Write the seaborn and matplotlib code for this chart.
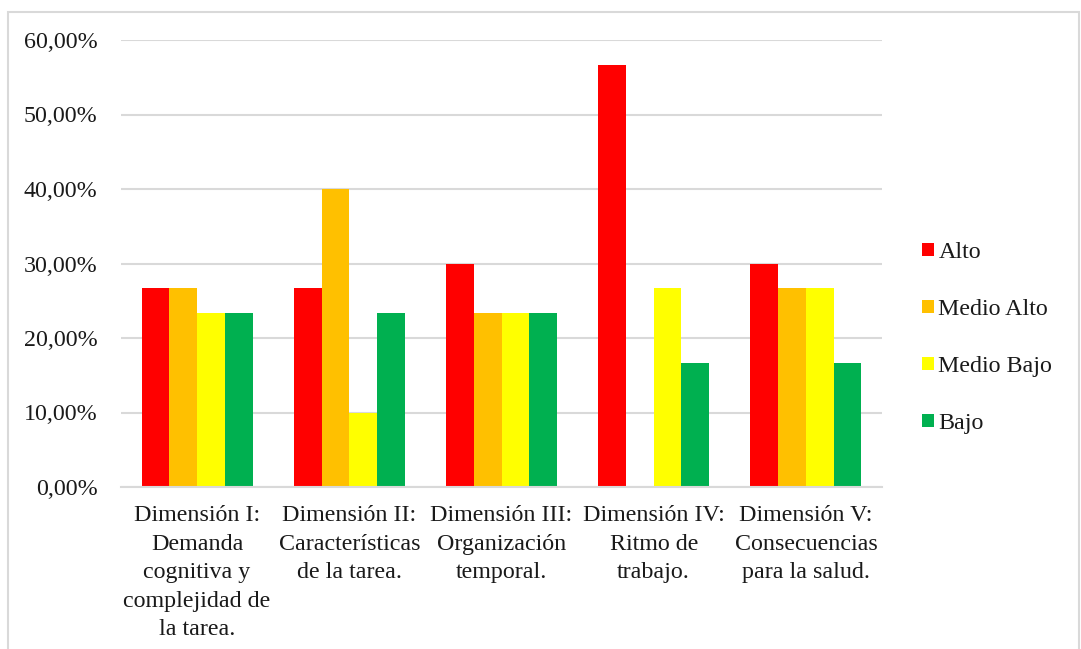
import matplotlib
matplotlib.use("Agg")
import matplotlib.pyplot as plt
from matplotlib.patches import Rectangle, Patch
from matplotlib.ticker import FuncFormatter
import seaborn as sns
import pandas as pd

categories = [
    "Dimensión I:\nDemanda\ncognitiva y\ncomplejidad de\nla tarea.",
    "Dimensión II:\nCaracterísticas\nde la tarea.",
    "Dimensión III:\nOrganización\ntemporal.",
    "Dimensión IV:\nRitmo de\ntrabajo.",
    "Dimensión V:\nConsecuencias\npara la salud.",
]
series = ["Alto", "Medio Alto", "Medio Bajo", "Bajo"]
alto = [0.2667, 0.2667, 0.3000, 0.5667, 0.3000]
medio_alto = [0.2667, 0.4000, 0.2333, 0.0, 0.2667]
medio_bajo = [0.2333, 0.1000, 0.2333, 0.2667, 0.2667]
bajo = [0.2333, 0.2333, 0.2333, 0.1667, 0.1667]
colors = ["#FF0000", "#FFC000", "#FFFF00", "#00B050"]

rows = []
for name, vals in zip(series, [alto, medio_alto, medio_bajo, bajo]):
    for cat, v in zip(categories, vals):
        rows.append({"cat": cat, "nivel": name, "valor": v})
df = pd.DataFrame(rows)

sns.set_style("white")
plt.rcParams["font.family"] = ["Liberation Serif", "DejaVu Serif"]
fs = 17.3

fig = plt.figure(figsize=(10.81, 6.49), dpi=100)
ax = fig.add_axes([121 / 1081, 1 - 487 / 649, (882 - 121) / 1081, (487 - 40) / 649])

sns.barplot(data=df, x="cat", y="valor", hue="nivel", hue_order=series,
            order=categories, palette=colors, width=0.73, gap=0,
            saturation=1, errorbar=None, legend=False, ax=ax,
            edgecolor="none", linewidth=0)

ax.set_ylim(0, 0.6)
ax.set_xlim(-0.5, len(categories) - 0.5)
ax.set_yticks([i / 10 for i in range(7)])
ax.yaxis.set_major_formatter(FuncFormatter(lambda v, p: f"{v * 100:.2f}%".replace(".", ",")))
ax.grid(axis="y", color="#D9D9D9", linewidth=1.5)
ax.set_axisbelow(True)
for s in ["top", "right", "left"]:
    ax.spines[s].set_visible(False)
ax.spines["bottom"].set_color("#D9D9D9")
ax.spines["bottom"].set_linewidth(1.5)
ax.set_xlabel("")
ax.set_ylabel("")
ax.tick_params(axis="y", length=0, pad=17, labelsize=fs, colors="#1a1a1a")
ax.set_xticks([i - 0.5 for i in range(len(categories) + 1)], minor=True)
ax.tick_params(axis="x", which="minor", length=6, color="#D9D9D9", width=1.5)
ax.tick_params(axis="x", which="major", length=0, pad=13, labelsize=fs, colors="#1a1a1a")
for lab in ax.get_xticklabels():
    lab.set_linespacing(1.47)

handles = [Patch(facecolor=c, edgecolor="none", label=s) for s, c in zip(series, colors)]
fig.legend(handles=handles, loc="center left", bbox_to_anchor=(900 / 1081, 1 - 338 / 649),
           frameon=False, fontsize=fs, labelspacing=1.5, handlelength=0.5,
           handleheight=0.5, handletextpad=0.2, labelcolor="#1a1a1a")

fig.patches.append(Rectangle((8 / 1081, -0.05), (1079 - 8) / 1081, 1.05 - 12 / 649,
                             transform=fig.transFigure, fill=False,
                             edgecolor="#D9D9D9", linewidth=1.5))

fig.savefig("out.png", dpi=100)
